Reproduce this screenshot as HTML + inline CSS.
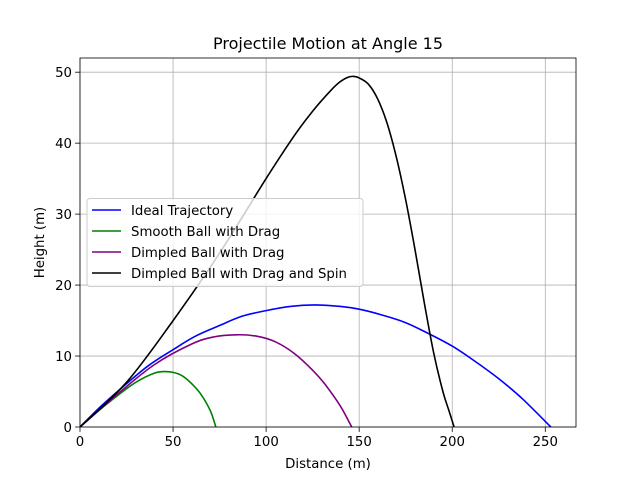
<!DOCTYPE html>
<html><head><meta charset="utf-8"><style>
body{margin:0;background:#fff}
svg text{font-family:"DejaVu Sans","Liberation Sans",sans-serif;fill:#000}
</style></head><body>
<svg id="c" width="640" height="480" xmlns="http://www.w3.org/2000/svg"></svg>
<script>
const xTicks=[0,50,100,150,200,250];
const yTicks=[0,10,20,30,40,50];
const seriesNames=["Ideal Trajectory","Smooth Ball with Drag","Dimpled Ball with Drag","Dimpled Ball with Drag and Spin"];
const idealX=[0,12,25,37,50,62,75,87,100,113,126,140,150,162,175,187,200,212,225,238,253];
const idealY=[0,3.1,6.1,8.7,10.9,12.8,14.3,15.6,16.4,17.0,17.2,17.0,16.6,15.8,14.7,13.2,11.4,9.3,6.8,3.9,0];
const smoothX=[0,10,20,30,40,45,50,55,60,65,70,73];
const smoothY=[0,2.3,4.4,6.3,7.6,7.8,7.7,7.2,6.1,4.6,2.3,0];
const dimpledX=[0,20,40,60,72,84,95,105,115,125,132,140,146];
const dimpledY=[0,4.6,8.8,11.7,12.7,13.0,12.8,12.0,10.4,8.0,5.9,2.9,0];
const spinX=[0,25,50,75,100,115,125,135,140,144,147,150,155,160,165,170,175,180,185,190,195,198,201];
const spinY=[0,6.3,15,24.5,35,41,44.5,47.5,48.7,49.3,49.4,49.2,48.3,46.2,42.8,38,32,25,17.5,10.5,5,2.5,0];
const colors=["#0000ff","#008000","#800080","#000000"];

const L=80,R=576,T=58,B=427,XMAX=266.5,YMAX=52;
const sx=v=>L+v/XMAX*(R-L), sy=v=>B-v/YMAX*(B-T);
const svg=document.getElementById('c');const NS="http://www.w3.org/2000/svg";
function mk(t,a,p){const e=document.createElementNS(NS,t);for(const k in a)e.setAttribute(k,a[k]);(p||svg).appendChild(e);return e;}
function smoothPath(P){
 let d='M'+P[0][0].toFixed(1)+','+P[0][1].toFixed(1);
 for(let i=0;i<P.length-1;i++){
  const p0=P[i-1]||P[i],p1=P[i],p2=P[i+1],p3=P[i+2]||P[i+1];
  const c1=[p1[0]+(p2[0]-p0[0])/6,p1[1]+(p2[1]-p0[1])/6];
  const c2=[p2[0]-(p3[0]-p1[0])/6,p2[1]-(p3[1]-p1[1])/6];
  d+=' C'+c1.map(v=>v.toFixed(1)).join(',')+' '+c2.map(v=>v.toFixed(1)).join(',')+' '+p2[0].toFixed(1)+','+p2[1].toFixed(1);
 }
 return d;
}
let e;
e=mk('rect',{x:L,y:T,width:R-L,height:B-T,fill:'#fff'});


xTicks.forEach(v=>{
 e=mk('line',{x1:sx(v),x2:sx(v),y1:T,y2:B,stroke:'#b0b0b0','stroke-width':0.8});
 
 
 mk('line',{x1:sx(v),x2:sx(v),y1:B,y2:B+4.9,stroke:'#000','stroke-width':0.8});
 e=mk('text',{x:sx(v),y:B+19,'text-anchor':'middle','font-size':'13.3'});e.textContent=v;
 
 
});
yTicks.forEach(v=>{
 e=mk('line',{x1:L,x2:R,y1:sy(v),y2:sy(v),stroke:'#b0b0b0','stroke-width':0.8});
 
 
 mk('line',{x1:L-4.9,x2:L,y1:sy(v),y2:sy(v),stroke:'#000','stroke-width':0.8});
 e=mk('text',{x:L-8,y:sy(v)+4.8,'text-anchor':'end','font-size':'13.3'});e.textContent=v;
 
 
});
const clip=mk('clipPath',{id:'cp'});mk('rect',{x:L,y:T,width:R-L,height:B-T},clip);
const data=[[idealX,idealY],[smoothX,smoothY],[dimpledX,dimpledY],[spinX,spinY]];
const lineNames=['ideal-trajectory-line','smooth-ball-line','dimpled-ball-line','dimpled-spin-line'];
data.forEach((d,i)=>{
 const P=d[0].map((x,j)=>[sx(x),sy(d[1][j])]);
 e=mk('path',{d:smoothPath(P),fill:'none',stroke:colors[i],'stroke-width':1.6,'stroke-linejoin':'round','clip-path':'url(#cp)'});
 
 
});
e=mk('rect',{x:L,y:T,width:R-L,height:B-T,fill:'none',stroke:'#000','stroke-width':0.8});


e=mk('text',{x:(L+R)/2,y:T-9,'text-anchor':'middle','font-size':'16'});e.textContent='Projectile Motion at Angle 15';


e=mk('text',{x:(L+R)/2,y:468,'text-anchor':'middle','font-size':'13.3'});e.textContent='Distance (m)';


e=mk('text',{x:44,y:(T+B)/2,'text-anchor':'middle','font-size':'13.3',transform:`rotate(-90 44 ${(T+B)/2})`});e.textContent='Height (m)';


const lg=mk('g',{});


mk('rect',{x:87,y:198.5,width:276,height:88,rx:3,fill:'#fff','fill-opacity':0.8,stroke:'#cccccc','stroke-width':1},lg);
seriesNames.forEach((n,i)=>{
 const y=210+i*21;
 mk('line',{x1:92,x2:121,y1:y,y2:y,stroke:colors[i],'stroke-width':1.6},lg);
 e=mk('text',{x:131,y:y+5,'font-size':'13.3'},lg);e.textContent=n;
 
 
});
</script>
</body></html>
